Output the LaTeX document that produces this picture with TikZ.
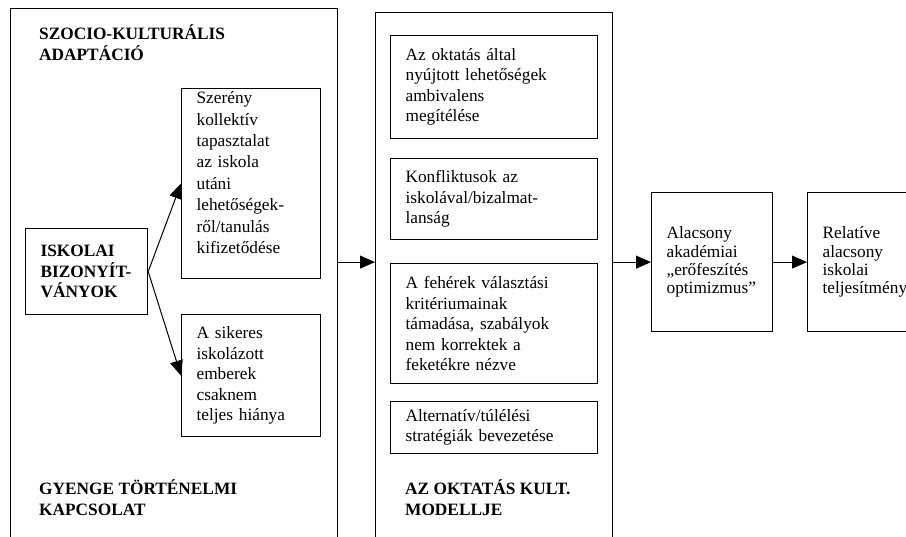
\documentclass[tikz,border=0pt]{standalone}
\usepackage{fontspec}
\setmainfont{Liberation Serif}
\usetikzlibrary{arrows.meta}
\newcommand{\boxfont}{\fontsize{17.3}{20.5}\selectfont}
\begin{document}
\begin{tikzpicture}[x=1pt,y=-1pt,
    outer/.style={draw,line width=0.8pt,anchor=north west,minimum height=600pt,inner sep=0pt},
    box/.style={draw,line width=1.2pt,anchor=north west,align=left,font=\boxfont,inner xsep=15pt,inner ysep=0pt},
    head/.style={font=\fontsize{17.3}{21}\selectfont\bfseries,align=left,anchor=north west,inner sep=0pt},
    arr/.style={line width=1pt,-{Triangle[length=15pt,width=13pt]}}]
      \clip (0,0) rectangle (906,537);
      \node[outer,minimum width=327pt] (adaptacio) at (10,8) {};
      \node[outer,minimum width=237pt] (modell) at (375,12) {};
      \node[head] (szocio) at (39,24) {SZOCIO-KULTURÁLIS\\ADAPTÁCIÓ};
      \node[head] (gyenge) at (39,479) {GYENGE TÖRTÉNELMI\\KAPCSOLAT};
      \node[head] (azoktatas) at (405,479) {AZ OKTATÁS KULT.\\MODELLJE};
      \node[box,font=\boxfont\bfseries,text width=92pt,minimum height=86pt] (iskolai) at (25,228)
        {ISKOLAI\\BIZONYÍT-\\VÁNYOK};
      \node[box,font=\fontsize{17.3}{21.4}\selectfont,text width=109pt,minimum height=190pt] (szereny) at (181,88)
        {Szerény\\kollektív\\tapasztalat\\az iskola\\utáni\\lehetőségek-\\ről/tanulás\\kifizetődése\rule[-22pt]{0pt}{22pt}};
      \node[box,text width=109pt,minimum height=122pt] (sikeres) at (181,314)
        {A sikeres\\iskolázott\\emberek\\csaknem\\teljes hiánya};
      \node[box,text width=177pt,minimum height=103pt] (ambivalens) at (390,35)
        {Az oktatás által\\nyújtott lehetőségek\\ambivalens\\megítélése};
      \node[box,text width=177pt,minimum height=81pt] (konfliktus) at (390,158)
        {Konfliktusok az\\iskolával/bizalmat-\\lanság};
      \node[box,text width=177pt,minimum height=120pt] (feherek) at (390,263)
        {A fehérek választási\\kritériumainak\\támadása, szabályok\\nem korrektek a\\feketékre nézve};
      \node[box,text width=177pt,minimum height=52pt] (alternativ) at (390,401)
        {Alternatív/túlélési\\stratégiák bevezetése};
      \node[box,font=\fontsize{17.3}{18.4}\selectfont,text width=91pt,minimum height=139pt] (alacsony) at (651,192)
        {Alacsony\\akadémiai\\„erőfeszítés\\optimizmus”};
      \node[box,font=\fontsize{17.3}{18.4}\selectfont,text width=93pt,minimum height=139pt] (relative) at (807,192)
        {Relatíve\\alacsony\\iskolai\\teljesítmény};
      \draw[arr] (iskolai.east) -- (szereny.west);
      \draw[arr] (iskolai.east) -- (sikeres.west);
      \draw[arr] (adaptacio.east |- alacsony.west) -- (modell.west |- alacsony.west);
      \draw[arr] (modell.east |- alacsony.west) -- (alacsony.west);
      \draw[arr] (alacsony.east) -- (relative.west);
    \end{tikzpicture}
\end{document}
